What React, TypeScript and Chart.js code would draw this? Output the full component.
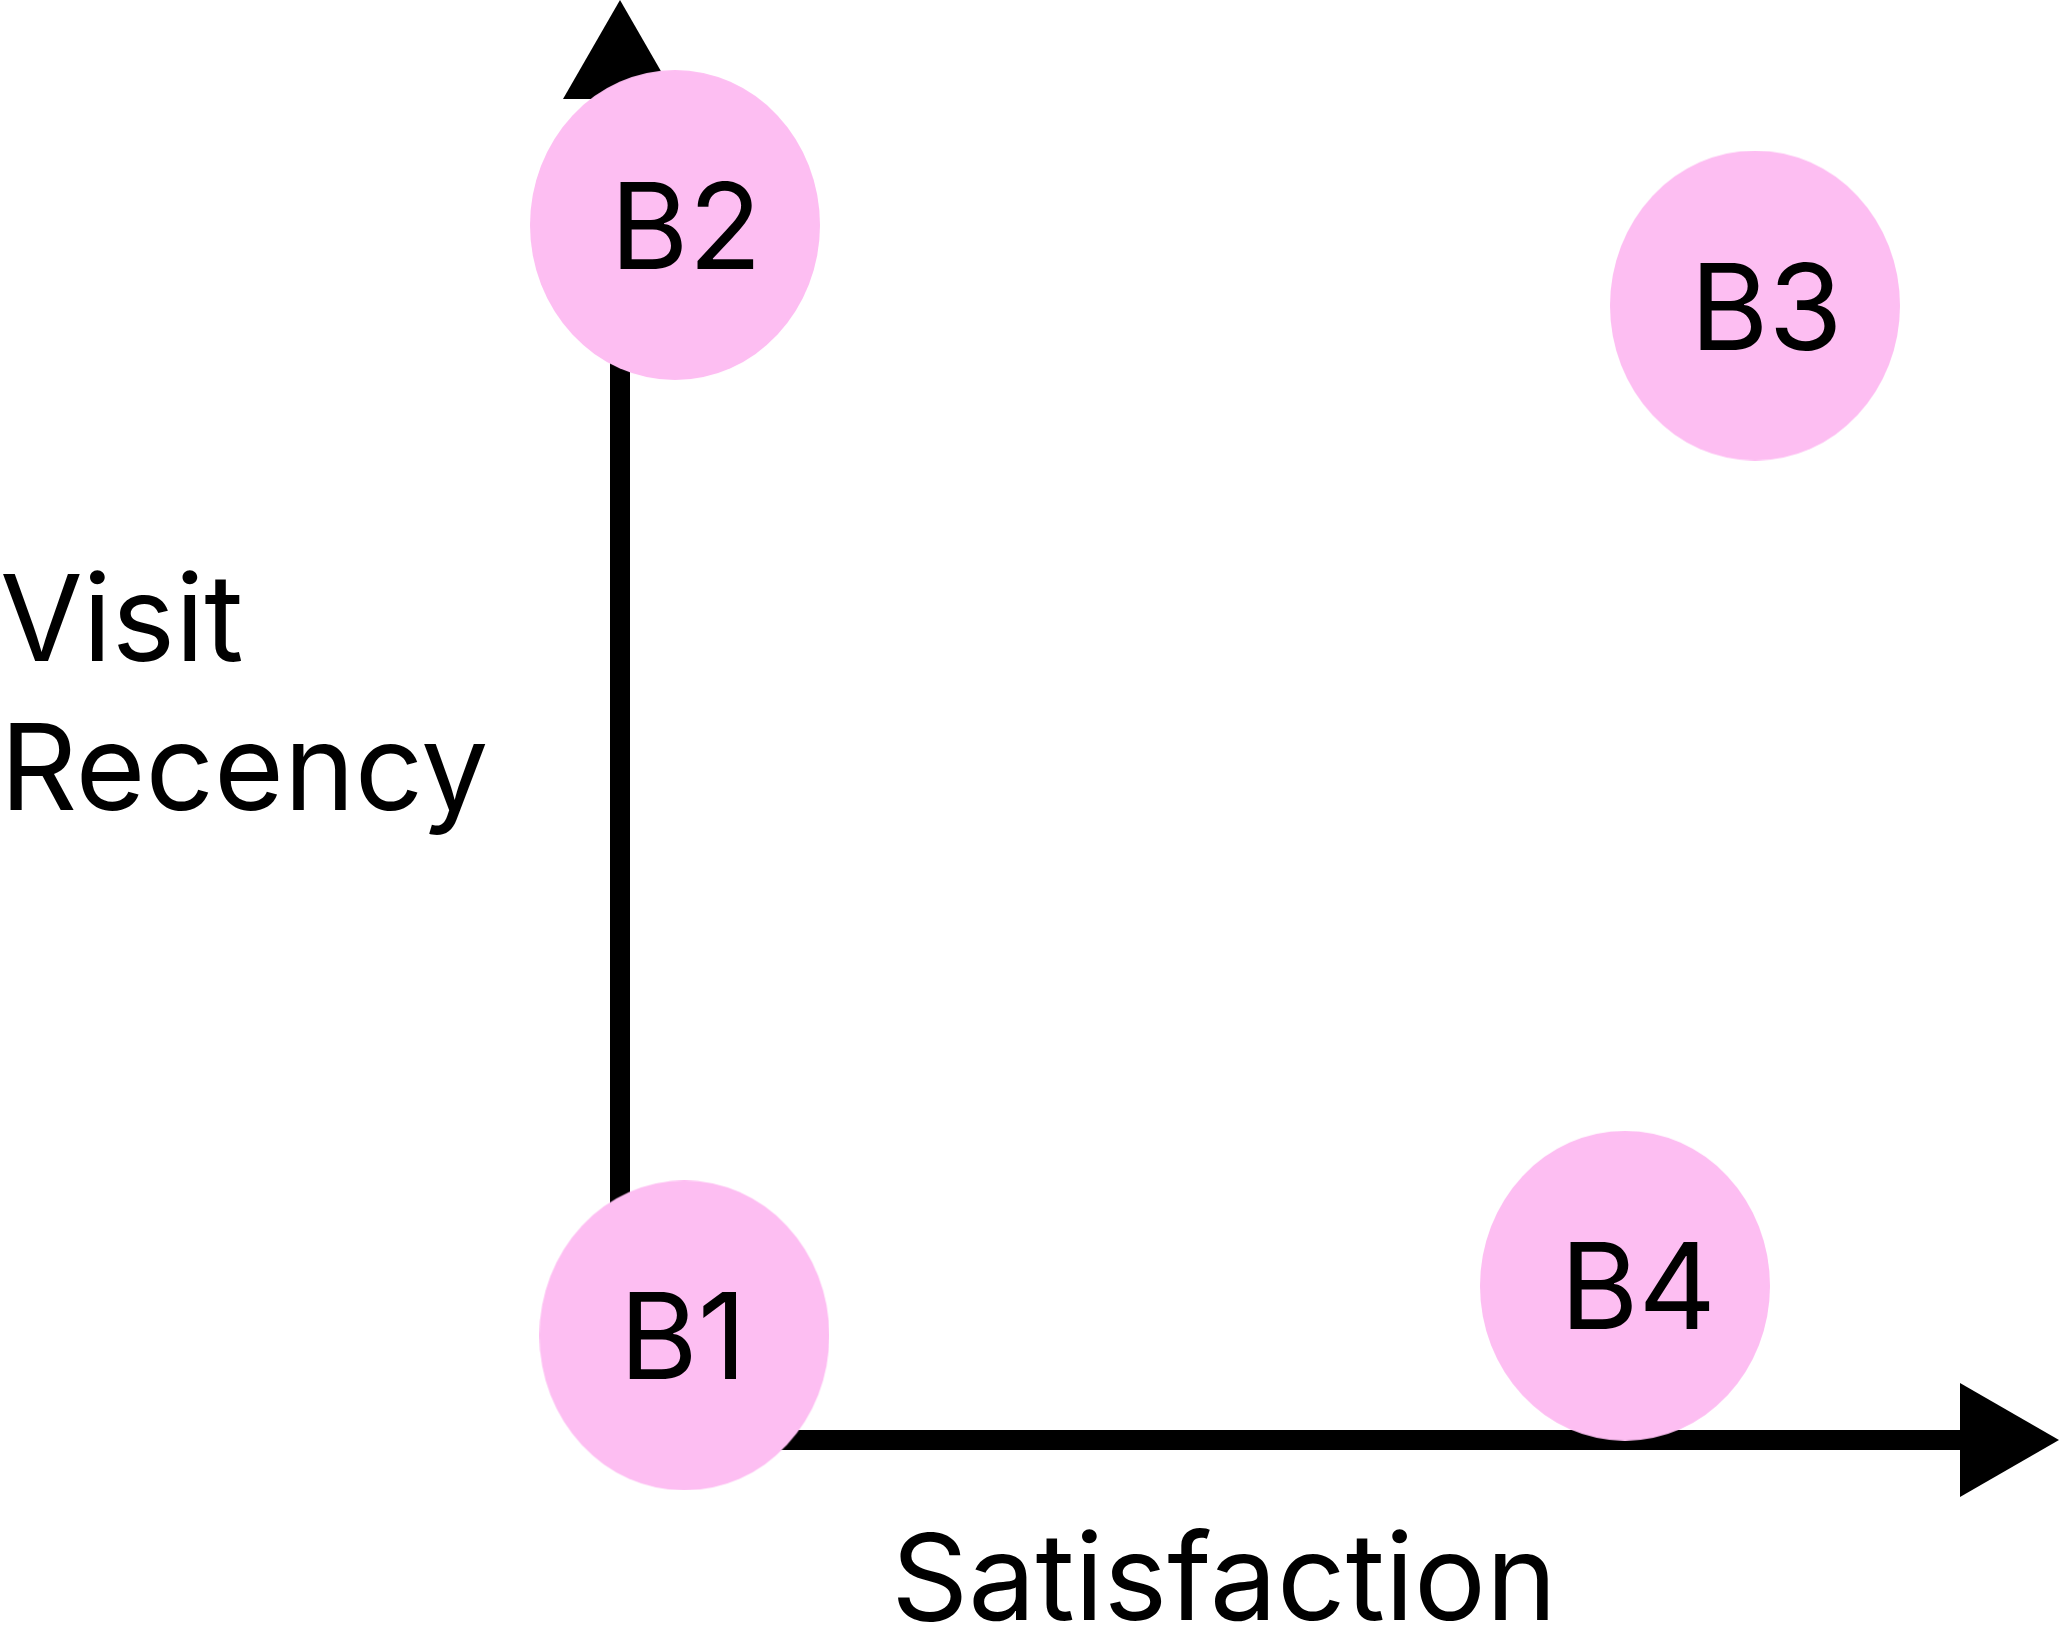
import React, { useEffect, useRef } from "react";
import { Chart, registerables } from "chart.js";

Chart.register(...registerables);

// ---- data ----
const bubbleLabels = ["B1", "B2", "B3", "B4"];
const satisfaction = [0.48, 0.41, 8.47, 7.5];
const visitRecency = [0.78, 9.06, 8.46, 1.15];
const xAxisTitle = "Satisfaction";
const yAxisTitle = ["Visit", "Recency"];

const PINK = "rgb(253,190,242)";
const FONT = "120px Inter, 'Noto Sans', sans-serif";

function makeEllipse(rx: number, ry: number): HTMLCanvasElement {
  const c = document.createElement("canvas");
  c.width = rx * 2;
  c.height = ry * 2;
  const g = c.getContext("2d")!;
  g.fillStyle = PINK;
  g.beginPath();
  g.ellipse(rx, ry, rx, ry, 0, 0, Math.PI * 2);
  g.fill();
  return c;
}

const axesPlugin = {
  id: "arrowAxes",
  beforeDatasetsDraw(chart: any) {
    const { ctx, scales } = chart;
    const xs = scales.x;
    const ys = scales.y;
    const x0 = xs.getPixelForValue(xs.min);
    const y0 = ys.getPixelForValue(ys.min);
    const xEnd = xs.getPixelForValue(xs.max);
    const yEnd = ys.getPixelForValue(ys.max);
    const lw = 20;
    const ah = 99;
    const aw = 57;
    ctx.save();
    ctx.fillStyle = "#000";
    // y axis line
    ctx.fillRect(x0 - lw / 2, yEnd, lw, y0 + lw / 2 - yEnd);
    // x axis line
    ctx.fillRect(x0 - lw / 2, y0 - lw / 2, xEnd - (x0 - lw / 2), lw);
    // y arrow
    ctx.beginPath();
    ctx.moveTo(x0, yEnd - ah);
    ctx.lineTo(x0 + aw, yEnd);
    ctx.lineTo(x0 - aw, yEnd);
    ctx.closePath();
    ctx.fill();
    // x arrow
    ctx.beginPath();
    ctx.moveTo(xEnd + ah, y0);
    ctx.lineTo(xEnd, y0 - aw);
    ctx.lineTo(xEnd, y0 + aw);
    ctx.closePath();
    ctx.fill();
    // axis titles
    ctx.font = FONT;
    ctx.textBaseline = "alphabetic";
    ctx.textAlign = "center";
    ctx.fillText(xAxisTitle, 1224, 1620);
    ctx.textAlign = "left";
    ctx.fillText(yAxisTitle[0], 0, 661);
    ctx.fillText(yAxisTitle[1], 0, 810);
    ctx.restore();
  },
  afterDatasetsDraw(chart: any) {
    const { ctx } = chart;
    const meta = chart.getDatasetMeta(0);
    ctx.save();
    ctx.font = FONT;
    ctx.fillStyle = "#000";
    ctx.textAlign = "left";
    ctx.textBaseline = "alphabetic";
    meta.data.forEach((el: any, i: number) => {
      const m = ctx.measureText(bubbleLabels[i]);
      const capH = m.actualBoundingBoxAscent;
      const xDraw = el.x - 55 + m.actualBoundingBoxLeft;
      ctx.fillText(bubbleLabels[i], xDraw, el.y + capH / 2);
    });
    ctx.restore();
  },
};

export default function App() {
  const ref = useRef<HTMLCanvasElement | null>(null);
  useEffect(() => {
    document.body.style.margin = "0";
    document.body.style.overflow = "hidden";
    const img = makeEllipse(145, 155);
    const chart = new Chart(ref.current!, {
      type: "scatter",
      data: {
        datasets: [
          {
            label: "Brands",
            data: satisfaction.map((x, i) => ({ x, y: visitRecency[i] })),
            pointStyle: img as any,
            backgroundColor: PINK,
            clip: false as any,
          },
        ],
      },
      options: {
        responsive: false,
        animation: false,
        events: [],
        layout: { padding: { left: 620, right: 100, top: 99, bottom: 210 } },
        plugins: { legend: { display: false }, tooltip: { enabled: false } },
        scales: {
          x: { type: "linear", min: 0, max: 10, display: false },
          y: { type: "linear", min: 0, max: 10, display: false },
        },
      },
      plugins: [axesPlugin],
    });
    return () => chart.destroy();
  }, []);
  return (
    <div style={{ width: 2060, height: 1650, background: "#fff" }}>
      <canvas ref={ref} width={2060} height={1650} style={{ display: "block" }} />
    </div>
  );
}
